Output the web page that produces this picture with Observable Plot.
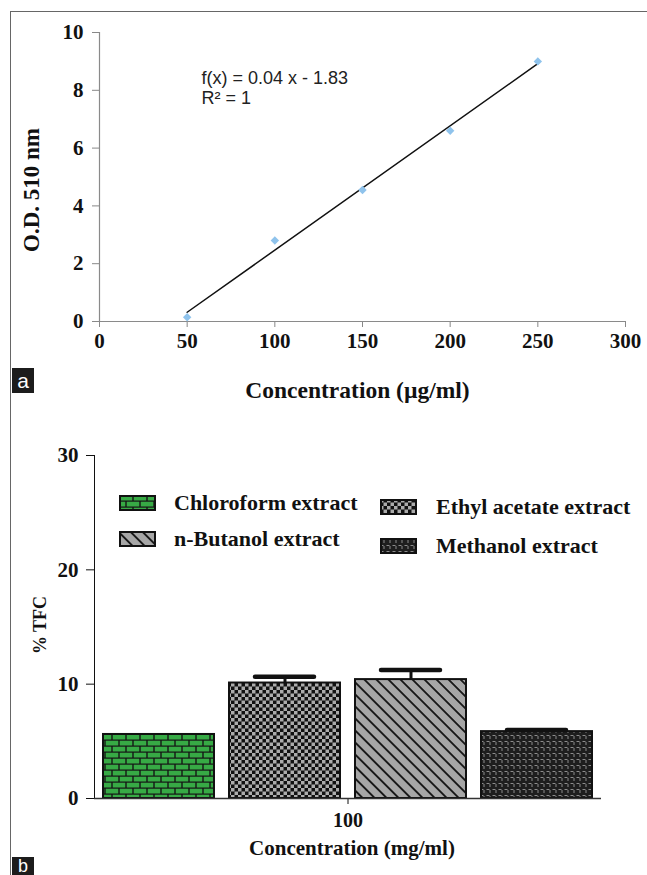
<!DOCTYPE html>
<html>
<head>
<meta charset="utf-8">
<script src="https://cdn.jsdelivr.net/npm/d3@7"></script>
<script src="https://cdn.jsdelivr.net/npm/@observablehq/plot@0.6"></script>
<style>
  body { margin: 0; background: #fff; }
  #wrap { position: relative; width: 647px; height: 875px; overflow: hidden; background: #fff; }
  #chartA { position: absolute; left: 0; top: 0; }
  #chartB { position: absolute; left: 0; top: 410px; }
  .vline { position: absolute; left: 10px; top: 11px; width: 1px; height: 864px; background: #666; }
  .hline { position: absolute; left: 10px; top: 11px; width: 637px; height: 1px; background: #666; }
  .tag { position: absolute; left: 12px; width: 22px; background: #1c1c1c; color: #fff;
         font-family: 'Liberation Sans', Arial, sans-serif; text-align: center; }
  .leg { position: absolute; display: flex; align-items: center; white-space: nowrap;
         font-family: 'Liberation Serif', 'Times New Roman', serif; font-weight: bold; font-size: 22px; color: #111; }
  .leg svg { display: block; }
  #chartA [aria-label="x-axis tick"], #chartA [aria-label="y-axis tick"], #chartA .tick line { stroke: #888; }
</style>
</head>
<body>
<svg width="0" height="0" style="position:absolute">
  <defs>
    <pattern id="pBrick" width="14" height="12" patternUnits="userSpaceOnUse">
      <rect width="14" height="12" fill="#141414"/>
      <rect x="0.7" y="0.7" width="12.6" height="4.8" fill="#37aa45"/>
      <rect x="-6.3" y="6.7" width="12.6" height="4.8" fill="#37aa45"/>
      <rect x="7.7" y="6.7" width="12.6" height="4.8" fill="#37aa45"/>
    </pattern>
    <pattern id="pCheck" width="7" height="7" patternUnits="userSpaceOnUse">
      <rect width="7" height="7" fill="#111"/>
      <rect x="0" y="0" width="3.5" height="3.5" fill="#ababab"/>
      <rect x="3.5" y="3.5" width="3.5" height="3.5" fill="#ababab"/>
    </pattern>
    <pattern id="pDiag" width="8.5" height="8.5" patternUnits="userSpaceOnUse" patternTransform="rotate(45)">
      <rect width="8.5" height="8.5" fill="#a6a6a6"/>
      <rect width="8.5" height="1.8" fill="#111"/>
    </pattern>
    <pattern id="pMeth" width="6" height="6" patternUnits="userSpaceOnUse">
      <rect width="6" height="6" fill="#1e1e1e"/>
      <rect x="0.5" y="1" width="3" height="1" fill="#8c8c8c"/>
      <rect x="3.5" y="2" width="1" height="3" fill="#8c8c8c"/>
    </pattern>
  </defs>
</svg>
<div id="wrap">
  <div id="chartA"></div>
  <div id="chartB"></div>
  <div class="vline"></div>
  <div class="hline"></div>
  <div class="tag" style="top:368px;height:25px;line-height:25px;font-size:21px;">a</div>
  <div class="tag" style="top:857px;height:18px;line-height:18px;font-size:18px;">b</div>
</div>
<script>
// ---------- Data: panel a (calibration) ----------
const concUg = [50, 100, 150, 200, 250];
const odValues = [0.15, 2.8, 4.55, 6.6, 9.0];
const xTicksA = [0, 50, 100, 150, 200, 250, 300];
const yTicksA = [0, 2, 4, 6, 8, 10];
const equationText = "f(x) = 0.04 x - 1.83\nR\u00B2 = 1";

// ---------- Data: panel b (% TFC) ----------
const concentrations = ["100"];
const extracts = ["Chloroform extract", "Ethyl acetate extract", "n-Butanol extract", "Methanol extract"];
const tfcValues = [5.6, 10.1, 10.4, 5.85];
const tfcErrors = [0, 0.55, 0.85, 0.15];
const yTicksB = [0, 10, 20, 30];
const legendOrder = ["Chloroform extract", "n-Butanol extract", "Ethyl acetate extract", "Methanol extract"];

// ---------- Styles ----------
const SERIF = "'Liberation Serif', 'Times New Roman', serif";
const SANS = "'Liberation Sans', Arial, sans-serif";
const patterns = ["url(#pBrick)", "url(#pCheck)", "url(#pDiag)", "url(#pMeth)"];

const calib = concUg.map((c, i) => ({x: c, y: odValues[i]}));

const chartA = Plot.plot({
  width: 647, height: 410,
  marginLeft: 99, marginRight: 22, marginTop: 32, marginBottom: 89,
  style: {fontFamily: SERIF, fontWeight: "bold", fontSize: "21px", color: "#111", background: "transparent"},
  x: {domain: [0, 300], ticks: xTicksA, tickSize: 6, tickPadding: 6, label: null},
  y: {domain: [0, 10], ticks: yTicksA, tickSize: 7, tickPadding: 9, label: null},
  marks: [
    Plot.ruleX([0], {stroke: "#8a8a8a", strokeWidth: 1.2}),
    Plot.ruleY([0], {stroke: "#8a8a8a", strokeWidth: 1.2}),
    Plot.linearRegressionY(calib, {x: "x", y: "y", stroke: "#111", strokeWidth: 1.5, ci: 0}),
    Plot.dot(calib, {x: "x", y: "y", symbol: "diamond2", r: 3.8, fill: "#8fc3ec", stroke: "none"}),
    Plot.text([equationText], {frameAnchor: "top-left", dx: 102, dy: 37, textAnchor: "start", lineAnchor: "top",
      lineHeight: 1.12, fontFamily: SANS, fontWeight: "normal", fontSize: 18, fill: "#222"}),
    Plot.text(["O.D. 510 nm"], {frameAnchor: "left", textAnchor: "middle", rotate: -90, dx: -68, dy: 13, fontSize: 23}),
    Plot.text(["Concentration (\u00B5g/ml)"], {frameAnchor: "bottom", dy: 76, dx: -5, fontSize: 23.5})
  ]
});
document.getElementById("chartA").appendChild(chartA);

const tfc = extracts.map((e, i) => ({conc: concentrations[0], extract: e, value: tfcValues[i], err: tfcErrors[i]}));
const withErr = tfc.filter(d => d.err > 0);

const chartB = Plot.plot({
  width: 647, height: 465,
  marginLeft: 94, marginRight: 46, marginTop: 45, marginBottom: 77,
  style: {fontFamily: SERIF, fontWeight: "bold", fontSize: "21px", color: "#111", background: "transparent"},
  fx: {domain: concentrations, padding: 0, label: null, tickSize: 6, tickPadding: 8, axis: "bottom"},
  x: {domain: extracts, axis: null, paddingInner: 0.12, paddingOuter: 0.06},
  y: {domain: [0, 30], ticks: yTicksB, tickSize: 8, tickPadding: 8, line: true, label: null},
  color: {domain: extracts, range: patterns},
  marks: [
    Plot.barY(tfc, {fx: "conc", x: "extract", y: "value", fill: "extract", stroke: "#111", strokeWidth: 2}),
    Plot.ruleX(withErr, {fx: "conc", x: "extract", y1: "value", y2: d => d.value + d.err, stroke: "#111", strokeWidth: 3}),
    Plot.tickY(withErr, {fx: "conc", x: "extract", y: d => d.value + d.err, stroke: "#111", strokeWidth: 4.5,
      insetLeft: 26, insetRight: 26, strokeLinecap: "round"}),
    Plot.ruleY([0], {stroke: "#333", strokeWidth: 1.5}),
    Plot.text(["% TFC"], {frameAnchor: "left", textAnchor: "middle", rotate: -90, dx: -54, dy: -2, fontSize: 18}),
    Plot.text(["Concentration (mg/ml)"], {frameAnchor: "bottom", dy: 56, dx: 4, fontSize: 21})
  ]
});
document.getElementById("chartB").appendChild(chartB);
// smaller facet tick label
chartB.querySelectorAll('[aria-label^="fx-axis"] text, g[aria-label="fx-axis tick label"] text').forEach(t => t.style.fontSize = "20px");

// ---------- Legend (HTML, pattern swatches) ----------
const legendPos = [
  {left: 119, cy: 503, gap: 18},
  {left: 119, cy: 539, gap: 18},
  {left: 380, cy: 507, gap: 19},
  {left: 380, cy: 546, gap: 19}
];
const wrap = document.getElementById("wrap");
legendOrder.forEach((name, i) => {
  const p = legendPos[i];
  const div = document.createElement("div");
  div.className = "leg";
  div.style.left = p.left + "px";
  div.style.top = (p.cy - 13) + "px";
  div.style.height = "26px";
  const fill = patterns[extracts.indexOf(name)];
  div.innerHTML = `<svg width="37" height="16"><rect x="1" y="1" width="35" height="14" fill="${fill}" stroke="#111" stroke-width="2"/></svg><span style="margin-left:${p.gap}px">${name}</span>`;
  wrap.appendChild(div);
});
</script>
</body>
</html>
